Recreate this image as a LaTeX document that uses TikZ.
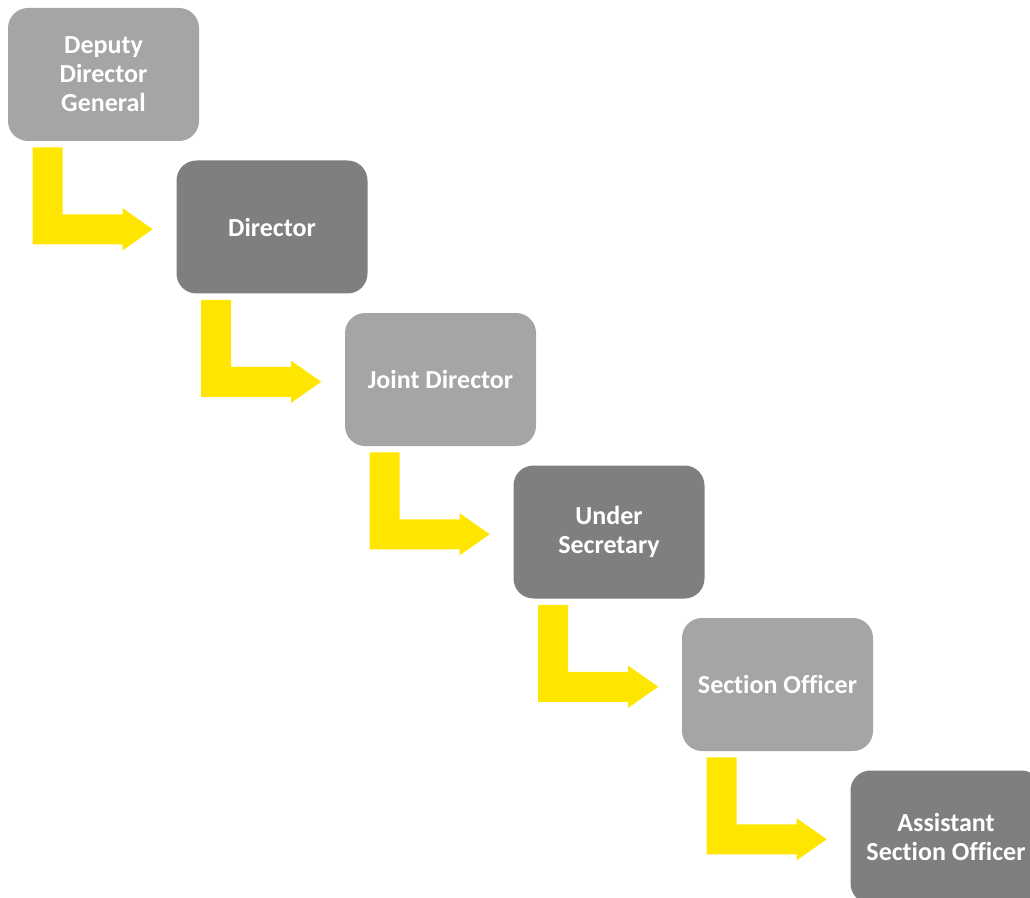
\documentclass[tikz,border=0pt]{standalone}
\usepackage{fontspec}
\setmainfont{Carlito}[Ligatures={NoCommon}]
\definecolor{boxlight}{RGB}{165,165,165}
\definecolor{boxdark}{RGB}{127,127,127}
\definecolor{stepyellow}{RGB}{255,230,0}
\begin{document}
\begin{tikzpicture}[x=0.75pt,y=-0.75pt,
  rankbox/.style={rectangle, rounded corners=15pt, minimum width=143.25pt,
    minimum height=99.75pt, inner sep=0pt, text=white, align=center,
    font=\fontsize{19.5}{21.75}\selectfont\bfseries},
  light/.style={rankbox, fill=boxlight},
  dark/.style={rankbox, fill=boxdark},
  % bent yellow arrow, placed at the south-west corner of the upper box
  bend/.pic={\fill[stepyellow] (25,6) -- (55,6) -- (55,73) -- (115,73)
      -- (115,67) -- (145,88) -- (115,109) -- (115,103) -- (25,103) -- cycle;}
]
\useasboundingbox (0,0) rectangle (1030,898);
\clip (0,0) rectangle (1030,898);

\node[light] (ddg) at (103.5,74.5)  {Deputy\\Director\\General};
\node[dark]  (dir) at (272,227)     {Director};
\node[light] (jd)  at (440.5,379.5) {Joint Director};
\node[dark]  (us)  at (609,532)     {Under\\Secretary};
\node[light] (so)  at (777.5,684.5) {Section Officer};
\node[dark]  (aso) at (946,837)     {Assistant\\Section Officer};

\foreach \n in {ddg,dir,jd,us,so}
  \pic at (\n.south west) {bend};
\end{tikzpicture}
\end{document}
